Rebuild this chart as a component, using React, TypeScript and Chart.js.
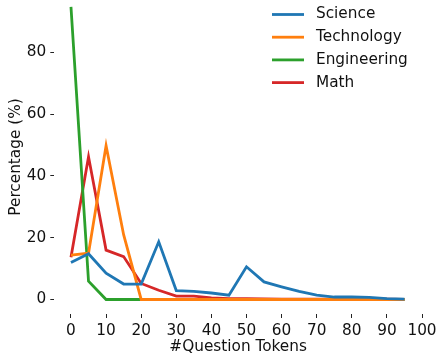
import React, { useEffect, useRef } from "react";
import { Chart, registerables } from "chart.js";

Chart.register(...registerables);

const xValues = [0, 5, 10, 15, 20, 25, 30, 35, 40, 45, 50, 55, 60, 65, 70, 75, 80, 85, 90, 95];
const science = [12, 14.8, 8.5, 5, 5, 18.7, 2.9, 2.6, 2.1, 1.4, 10.6, 5.7, 4.1, 2.6, 1.4, 0.8, 0.8, 0.7, 0.3, 0.1];
const technology = [14.4, 15, 49.8, 21, 0, 0, 0, 0, 0, 0, 0, 0, 0, 0, 0, 0, 0, 0, 0, 0];
const engineering = [94.8, 5.9, 0, 0, 0, 0, 0, 0, 0, 0, 0, 0, 0, 0, 0, 0, 0, 0, 0, 0];
const math = [13.7, 46.2, 16, 13.9, 5.2, 3, 1.1, 1.1, 0.5, 0.3, 0.3, 0.2, 0.1, 0.1, 0.1, 0.1, 0.1, 0.1, 0.1, 0];
const seriesNames = ["Science", "Technology", "Engineering", "Math"];
const seriesColors = ["#1f77b4", "#ff7f0e", "#2ca02c", "#d62728"];
const xTicks = [0, 10, 20, 30, 40, 50, 60, 70, 80, 90, 100];
const yTicks = [0, 20, 40, 60, 80];

const FONT = "'DejaVu Sans', sans-serif";
const TEXT = "#111";

const legendPlugin = {
  id: "customLegend",
  afterDraw(chart: any) {
    const ctx = chart.ctx;
    ctx.save();
    ctx.font = `15.3px ${FONT}`;
    ctx.textBaseline = "middle";
    ctx.textAlign = "left";
    chart.data.datasets.forEach((ds: any, i: number) => {
      const y = 14.5 + i * 22.7;
      ctx.strokeStyle = ds.borderColor;
      ctx.lineWidth = 2.8;
      ctx.beginPath();
      ctx.moveTo(272, y);
      ctx.lineTo(304, y);
      ctx.stroke();
      ctx.fillStyle = TEXT;
      ctx.fillText(ds.label, 316, y);
    });
    ctx.restore();
  },
};

export default function App() {
  const ref = useRef<HTMLCanvasElement>(null);
  useEffect(() => {
    document.body.style.margin = "0";
    const all = [science, technology, engineering, math];
    const chart = new Chart(ref.current!, {
      type: "line",
      data: {
        datasets: all.map((vals, i) => ({
          label: seriesNames[i],
          data: xValues.map((x, j) => ({ x, y: vals[j] })),
          borderColor: seriesColors[i],
          backgroundColor: seriesColors[i],
          borderWidth: 2.8,
          pointRadius: 0,
          tension: 0,
        })),
      },
      options: {
        animation: false,
        responsive: false,
        maintainAspectRatio: false,
        layout: { padding: { left: 0, right: 16, top: 0, bottom: 0 } },
        plugins: { legend: { display: false }, tooltip: { enabled: false } },
        scales: {
          x: {
            type: "linear",
            min: -4.75,
            max: 100,
            border: { display: false },
            grid: { drawOnChartArea: false, drawTicks: true, tickLength: 4, color: "#222", lineWidth: 1 },
            afterBuildTicks: (s: any) => { s.ticks = xTicks.map((v) => ({ value: v })); },
            afterFit: (s: any) => { s.height = 41; s.paddingLeft = 0; s.paddingRight = 0; },
            ticks: { color: TEXT, font: { family: FONT, size: 15.3 }, padding: 4, maxRotation: 0, autoSkip: false },
            title: { display: true, text: "#Question Tokens", color: TEXT, font: { family: FONT, size: 15.3, lineHeight: 1.0 }, padding: { top: 0, bottom: 0 } },
          },
          y: {
            type: "linear",
            min: -4.7,
            max: 97,
            border: { display: false },
            grid: { drawOnChartArea: false, drawTicks: true, tickLength: 4, color: "#222", lineWidth: 1 },
            afterBuildTicks: (s: any) => { s.ticks = yTicks.map((v) => ({ value: v })); },
            afterFit: (s: any) => { s.width = 54.3; s.paddingTop = 0; s.paddingBottom = 0; },
            ticks: { color: TEXT, font: { family: FONT, size: 15.3 }, padding: 4, autoSkip: false },
            title: { display: true, text: "Percentage (%)", color: TEXT, font: { family: FONT, size: 15.3, lineHeight: 1.2 }, padding: { top: 7, bottom: 0 } },
          },
        },
      },
      plugins: [legendPlugin],
    } as any);
    return () => chart.destroy();
  }, []);
  return (
    <div style={{ position: "relative", width: 438, height: 355 }}>
      <canvas ref={ref} width={438} height={355} style={{ display: "block" }} />
    </div>
  );
}
